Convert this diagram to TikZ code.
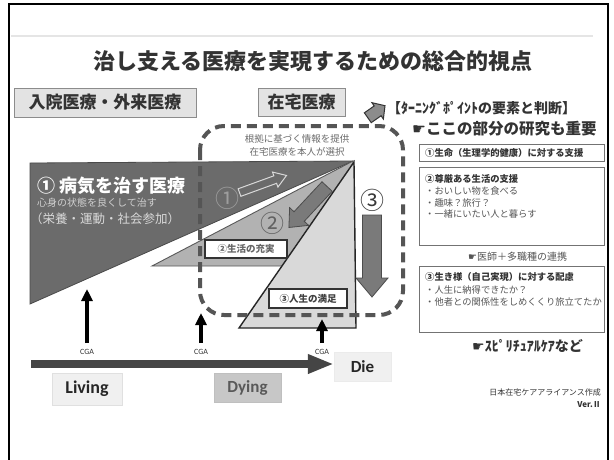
\documentclass[tikz,border=0pt]{standalone}
\usepackage{fontspec}
\newfontfamily\jp{Noto Sans CJK JP}
\newfontfamily\lat{Carlito}
\newfontfamily\dv{DejaVu Sans}
\usetikzlibrary{arrows.meta}
\newcommand\myfs[1]{\fontsize{#1}{#1}\selectfont}
\definecolor{darktri}{HTML}{6B6B6B}
\definecolor{darktrid}{HTML}{4A4A4A}
\definecolor{midtri}{HTML}{B2B2B2}
\definecolor{lighttri}{HTML}{D9D9D9}
\definecolor{dashc}{HTML}{555555}
\definecolor{arrowc}{HTML}{7A7A7A}
\definecolor{txtc}{HTML}{333333}
\definecolor{txtl}{HTML}{555555}
\definecolor{tlc}{HTML}{454545}
\begin{document}
\begin{tikzpicture}[x=1pt,y=-1pt,
  txt/.style={inner sep=0pt, font=\jp, text=txtc},
  topbox/.style={draw=black!45, fill=black!11, line width=1pt, inner sep=0pt, font=\jp\bfseries\myfs{17}, text=txtc},
  rbox/.style={draw=black!55, line width=0.9pt, fill=white, inner sep=0pt},
  lbox/.style={draw=black!80, line width=1.3pt, fill=white, inner sep=0pt, font=\jp\bfseries\myfs{9.5}},
  latbox/.style={inner sep=0pt, font=\lat\bfseries},
  dashloop/.style={draw=dashc, line width=4pt, dash pattern=on 10pt off 6pt, rounded corners=24pt},
  cga/.style={line width=3.4pt, draw=black, -{Triangle[length=12pt,width=11pt]}},
  cgal/.style={inner sep=0pt, font=\lat\myfs{8}, text=txtc},
  timeline/.style={line width=8pt, draw=tlc, -{Triangle[length=26pt,width=18pt]}},
  blockar/.style={fill=arrowc, draw=black!70, line width=0.8pt}
]
\useasboundingbox (0,0) rectangle (614,459);
\fill[white] (0,0) rectangle (614,459);
% frame
\draw[line width=1.6pt] (9,4) rectangle (608,475);
\draw[line width=2pt, black!10] (11,36) -- (593,36);

% title
\node[txt, font=\jp\bfseries\myfs{22}] (title) at (313,61) {治し支える医療を実現するための総合的視点};

% top boxes
\node[topbox, minimum width=182pt, minimum height=29pt] (inpatient) at (105,102.5) {入院医療・外来医療};
\node[topbox, minimum width=87pt, minimum height=28pt] (homecare) at (301.5,102.5) {在宅医療};

% triangles
\filldraw[fill=darktri, draw=darktrid, line width=0.8pt] (30,163) -- (353,161) -- (30,304) -- cycle;
\filldraw[fill=midtri, draw=black!65, line width=0.9pt] (152,266) -- (353,161) -- (355,266) -- cycle;
\filldraw[fill=lighttri, draw=black!85, line width=1.4pt] (354,162) -- (356,328) -- (239,328) -- cycle;

% texts in dark triangle
\node[txt, anchor=west, text=white, font=\jp\bfseries\myfs{18}] (cure) at (37,186) {① 病気を治す医療};
\node[txt, anchor=west, text=black!18, font=\jp\myfs{10}] (cure2) at (37,203) {心身の状態を良くして治す};
\node[txt, anchor=west, text=black!15, font=\jp\myfs{12.5}] (cure3) at (30,219) {（栄養・運動・社会参加）};

% info text
\node[txt, text=black!58, font=\jp\myfs{9.5}] (info1) at (297,139) {根拠に基づく情報を提供};
\node[txt, text=black!58, font=\jp\myfs{9.5}] (info2) at (297,152) {在宅医療を本人が選択};

% circled numbers
\node[txt, text=black!38, font=\jp\myfs{24}] (n1) at (227,198) {①};
\node[txt, text=black!62, font=\jp\myfs{24}] (n2) at (272,223) {②};
\node[txt, text=black!78, font=\jp\myfs{24}] (n3) at (372,200) {③};

% block arrows
\begin{scope}[shift={(263,184)}, rotate=20]
  \filldraw[fill=darktri, draw=black!15, line width=1pt] (-25,-4) -- (13,-4) -- (13,-8) -- (25,0) -- (13,8) -- (13,4) -- (-25,4) -- cycle;
\end{scope}
\begin{scope}[shift={(308,207)}, rotate=227]
  \filldraw[blockar] (-28,-7) -- (13,-7) -- (13,-13) -- (28,0) -- (13,13) -- (13,7) -- (-28,7) -- cycle;
\end{scope}
\begin{scope}[shift={(372,256)}, rotate=-90]
  \filldraw[blockar] (-41,-9.5) -- (22,-9.5) -- (22,-16) -- (41,0) -- (22,16) -- (22,9.5) -- (-41,9.5) -- cycle;
\end{scope}

% labels in triangles
\node[lbox, text=black!60, minimum width=82pt, minimum height=18pt] (life) at (246,249) {②生活の充実};
\node[lbox, text=black!75, minimum width=78pt, minimum height=19pt] (satis) at (308,298.5) {③人生の満足};

% dashed loop
\draw[dashloop] (200,126) rectangle (403,315);
\begin{scope}[shift={(376,112)}, rotate=35]
  \filldraw[fill=black!45, draw=black!80, line width=1pt] (-10,-6) -- (2,-6) -- (2,-10) -- (11,0) -- (2,10) -- (2,6) -- (-10,6) -- cycle;
\end{scope}

% right panel
\node[txt, anchor=west, font=\jp\bfseries\myfs{14}] (turning) at (387,108) {【ﾀｰﾆﾝｸﾞﾎﾟｲﾝﾄの要素と判断】};
\node[txt, anchor=west, font=\jp\bfseries\myfs{15.5}] (research) at (412,129) {{\dv ☛}ここの部分の研究も重要};

\node[rbox, minimum width=185pt, minimum height=17pt] (box1) at (511.5,152.5) {};
\node[txt, anchor=west, font=\jp\bfseries\myfs{9.3}] (b1t) at (425,152.5) {①生命（生理学的健康）に対する支援};

\node[rbox, minimum width=185pt, minimum height=78pt] (box2) at (511.5,206) {};
\node[txt, anchor=west, font=\jp\bfseries\myfs{9.3}] (b2t) at (425,179) {②尊厳ある生活の支援};
\node[txt, anchor=west, text=txtl, font=\jp\myfs{9.3}] (b2a) at (425,191) {・おいしい物を食べる};
\node[txt, anchor=west, text=txtl, font=\jp\myfs{9.3}] (b2b) at (425,202.5) {・趣味？旅行？};
\node[txt, anchor=west, text=txtl, font=\jp\myfs{9.3}] (b2c) at (425,214) {・一緒にいたい人と暮らす};

\node[txt, anchor=west, text=txtl, font=\jp\myfs{10}] (coop) at (468,257) {{\dv ☛}医師＋多職種の連携};

\node[rbox, minimum width=185pt, minimum height=66pt] (box3) at (511.5,299) {};
\node[txt, anchor=west, font=\jp\bfseries\myfs{9.3}] (b3t) at (425,277) {③生き様（自己実現）に対する配慮};
\node[txt, anchor=west, text=txtl, font=\jp\myfs{9.3}] (b3a) at (425,290) {・人生に納得できたか？};
\node[txt, anchor=west, text=txtl, font=\jp\myfs{9.3}] (b3b) at (425,302) {・他者との関係性をしめくくり旅立てたか};

\node[txt, anchor=west, font=\jp\bfseries\myfs{14}] (spirit) at (472,346) {{\dv ☛}ｽﾋﾟﾘﾁｭｱﾙｹｱなど};

\node[txt, anchor=east, font=\jp\myfs{8}] (credit) at (601,392) {日本在宅ケアアライアンス作成};
\node[txt, anchor=east, font=\jp\bfseries\myfs{8}] (ver) at (601,405) {Ver.Ⅱ};

% timeline boxes
\node[latbox, fill=black!6, draw=black!12, minimum width=70pt, minimum height=32pt, font=\lat\bfseries\myfs{18}, text=black!85] (living) at (87,389) {Living};
\node[latbox, fill=black!22, draw=black!25, minimum width=67pt, minimum height=29pt, font=\lat\bfseries\myfs{17}, text=black!65] (dying) at (247.5,387.5) {Dying};
\node[latbox, fill=black!6, draw=black!8, minimum width=57pt, minimum height=29pt, font=\lat\bfseries\myfs{17}, text=black!85] (die) at (362.5,366.5) {Die};

% timeline
\coordinate (tlstart) at (31,364);
\draw[timeline] (tlstart) -- (die.west |- tlstart);

% CGA arrows
\node[cgal] (cga1) at (87,352) {CGA};
\node[cgal] (cga2) at (201,352) {CGA};
\node[cgal] (cga3) at (322,352) {CGA};
\coordinate (c1) at (87,289);
\coordinate (c2) at (201,313);
\coordinate (c3) at (322,319);
\draw[cga] ([yshift=6pt]cga1.north) -- (c1);
\draw[cga] ([yshift=6pt]cga2.north) -- (c2);
\draw[cga] ([yshift=6pt]cga3.north) -- (c3);
\end{tikzpicture}
\end{document}
